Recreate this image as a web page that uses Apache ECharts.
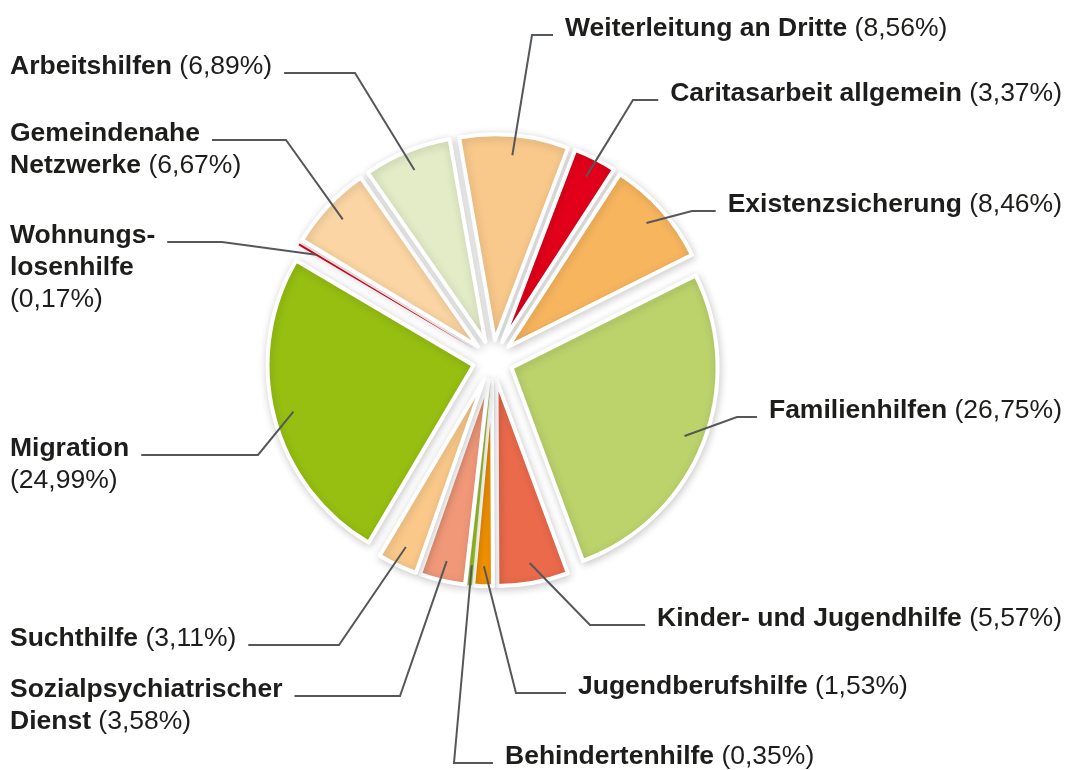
<!DOCTYPE html>
<html>
<head>
<meta charset="utf-8">
<script src="https://cdn.jsdelivr.net/npm/echarts@6/dist/echarts.min.js"></script>
<style>
html,body{margin:0;padding:0;background:#ffffff;}
#chart{width:1081px;height:770px;}
</style>
</head>
<body>
<div id="chart"></div>
<script>
// ---- data ----
const categories = ['Weiterleitung an Dritte','Caritasarbeit allgemein','Existenzsicherung','Familienhilfen','Kinder- und Jugendhilfe','Jugendberufshilfe','Behindertenhilfe','Sozialpsychiatrischer Dienst','Suchthilfe','Migration','Wohnungslosenhilfe','Gemeindenahe Netzwerke','Arbeitshilfen'];
// label text as printed (line breaks; trailing "\n" = percentage on its own line)
const labelNames = ['Weiterleitung an Dritte','Caritasarbeit allgemein','Existenzsicherung','Familienhilfen','Kinder- und Jugendhilfe','Jugendberufshilfe','Behindertenhilfe','Sozialpsychiatrischer\nDienst','Suchthilfe','Migration\n','Wohnungs-\nlosenhilfe\n','Gemeindenahe\nNetzwerke','Arbeitshilfen'];
const percentages = [8.56,3.37,8.46,26.75,5.57,1.53,0.35,3.58,3.11,24.99,0.17,6.67,6.89];

// ---- styles / layout ----
const sliceColors = ['#F9C98B','#E2001A','#F7B55E','#BCD36C','#EB6A4B','#F39200','#95C11F','#F19879','#FAC98A','#96BF12','#E2001A','#FBD5A3','#E3ECC7'];
// [x, first line centre y, align, elbow x]
const labelPlacement = [
  [565, 29, 'left', 532],
  [1062, 94, 'right', 633],
  [1062, 205, 'right', 692],
  [1062, 411, 'right', 737],
  [1062, 619, 'right', 590],
  [578, 687, 'left', 516],
  [505, 757, 'left', 454],
  [10, 690, 'left', 400],
  [10, 639, 'left', 339],
  [10, 449, 'left', 258],
  [10, 236, 'left', 222],
  [10, 134, 'left', 286],
  [10, 67, 'left', 355]
];
const FONT = '"Liberation Sans", Arial, Helvetica, sans-serif';
const FS = 26.5, LH = 32, OFFSET = 20, RADIUS = 206, CENTER = ['45.6%', '46.8%'], START = 100;

const mctx = document.createElement('canvas').getContext('2d');
function measure(txt, bold) {
  mctx.font = (bold ? 'bold ' : '') + FS + 'px ' + FONT;
  return mctx.measureText(txt).width;
}
function pctText(v) { return '(' + v.toFixed(2).replace('.', ',') + '%)'; }
function firstLineWidth(i) {
  const parts = labelNames[i].split('\n');
  if (parts.length === 1) return measure(parts[0] + ' ', true) + measure(pctText(percentages[i]), false);
  return measure(parts[0], true);
}
function richLabel(i) {
  const parts = labelNames[i].split('\n');
  const ownLine = parts[parts.length - 1] === '';
  const body = parts.filter(p => p !== '').map(p => '{b|' + p + '}').join('\n');
  return body + (ownLine ? '\n' : '{b| }') + '{p|' + pctText(percentages[i]) + '}';
}

// exploded slices
const sliceData = categories.map((c, i) => ({
  name: c,
  value: percentages[i],
  selected: true,
  itemStyle: {
    color: sliceColors[i],
    borderColor: '#ffffff',
    borderWidth: percentages[i] >= 1 ? 4 : 0
  }
}));
// label carrier (same values, same geometry, not filled)
const labelData = categories.map((c, i) => ({ name: c, value: percentages[i] }));

const chart = echarts.init(document.getElementById('chart'), null, { renderer: 'canvas' });
chart.setOption({
  animation: false,
  backgroundColor: '#ffffff',
  series: [{
    type: 'pie',
    center: CENTER,
    radius: RADIUS,
    startAngle: START,
    clockwise: true,
    selectedMode: 'multiple',
    selectedOffset: OFFSET,
    silent: true,
    emphasis: { disabled: true },
    itemStyle: {
      shadowBlur: 8,
      shadowColor: 'rgba(0,0,0,0.18)',
      shadowOffsetX: 1,
      shadowOffsetY: 2
    },
    label: { show: false },
    labelLine: { show: false },
    data: sliceData,
    z: 2
  }, {
    type: 'pie',
    center: CENTER,
    radius: RADIUS,
    startAngle: START,
    clockwise: true,
    silent: true,
    selectedMode: false,
    avoidLabelOverlap: false,
    emphasis: { disabled: true },
    itemStyle: { color: 'rgba(255,255,255,0)', borderWidth: 0 },
    label: {
      show: true,
      position: 'outside',
      fontFamily: FONT,
      fontSize: FS,
      lineHeight: LH,
      color: '#1d1d1b',
      formatter: p => richLabel(p.dataIndex),
      rich: {
        b: { fontFamily: FONT, fontSize: FS, lineHeight: LH, fontWeight: 'bold', color: '#1d1d1b' },
        p: { fontFamily: FONT, fontSize: FS, lineHeight: LH, fontWeight: 'normal', color: '#1d1d1b' }
      }
    },
    labelLine: {
      show: true,
      lineStyle: { color: '#55585a', width: 2 }
    },
    labelLayout: function (params) {
      const i = params.dataIndex;
      const pl = labelPlacement[i];
      const lw = firstLineWidth(i);
      const lineY = pl[1] + 6;
      let attachX;
      if (pl[0] < 300) attachX = pl[0] + lw + 12;
      else attachX = (pl[2] === 'right' ? pl[0] - lw : pl[0]) - 12;
      const pts = params.labelLinePoints;
      let p0 = pts[0];
      if (pts.length > 1) {
        const dx = pts[1][0] - pts[0][0], dy = pts[1][1] - pts[0][1];
        const len = Math.sqrt(dx * dx + dy * dy) || 1;
        p0 = [pts[0][0] + dx / len * (OFFSET - 20), pts[0][1] + dy / len * (OFFSET - 20)];
      }
      return {
        x: pl[0],
        y: pl[1] - LH / 2,
        align: pl[2],
        verticalAlign: 'top',
        labelLinePoints: [p0, [pl[3], lineY], [attachX, lineY]]
      };
    },
    data: labelData,
    z: 3
  }]
});
</script>
</body>
</html>
